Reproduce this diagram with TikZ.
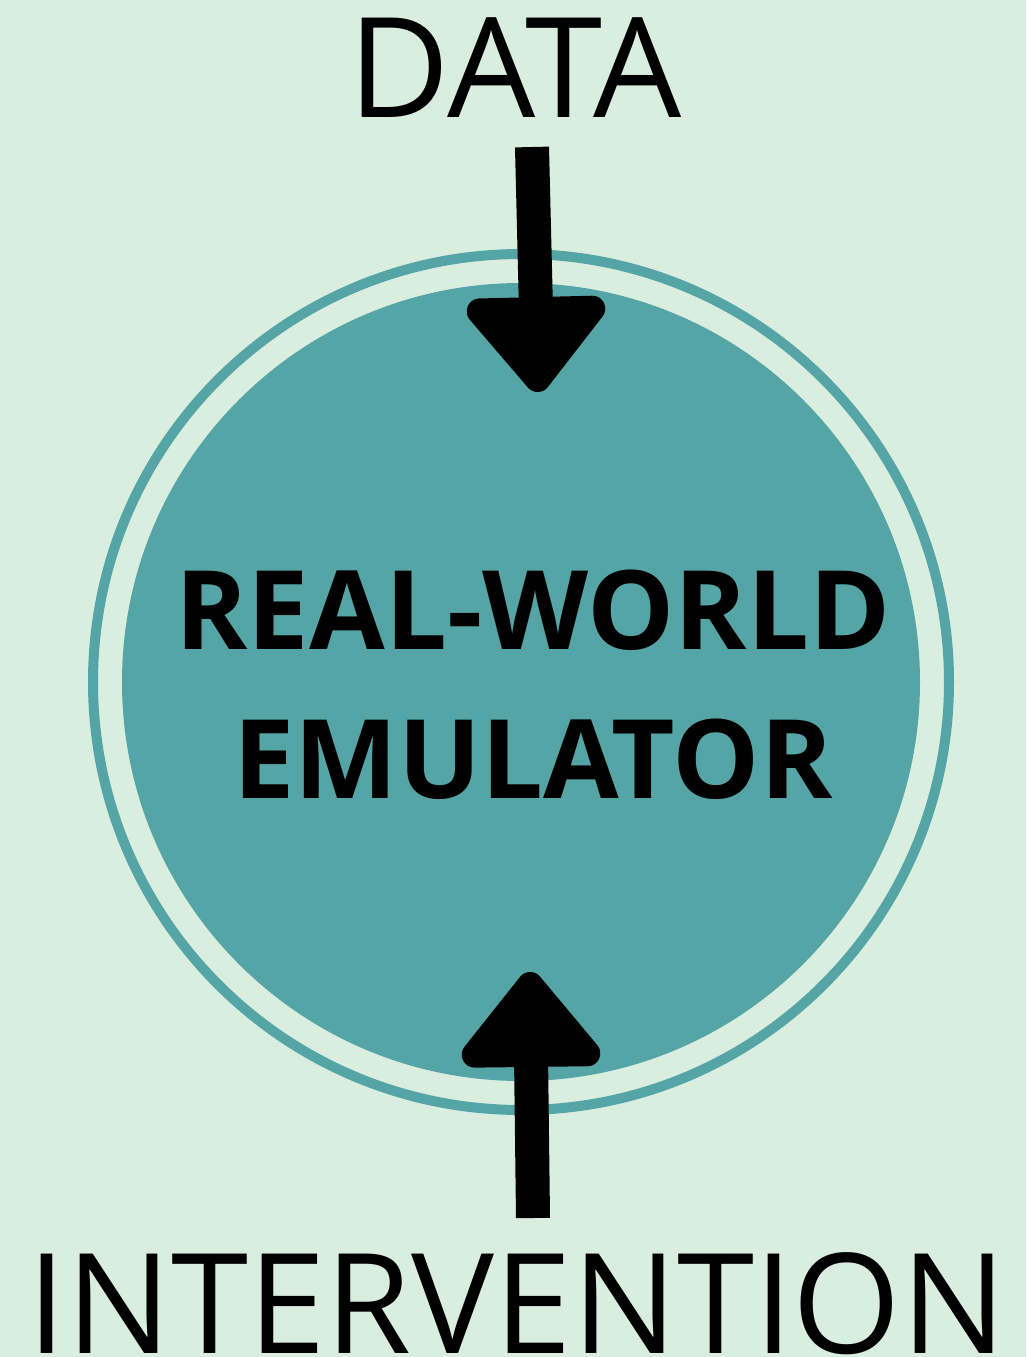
\documentclass[tikz,border=0pt]{standalone}
\usepackage{fontspec}
\setmainfont{Open Sans}
\usepackage{xcolor}
\usetikzlibrary{arrows.meta}
\usetikzlibrary{math}

\definecolor{mint}{HTML}{DAEEE0}
\definecolor{emuteal}{HTML}{55A5A7}

\begin{document}
\begin{tikzpicture}[x=0.01cm,y=-0.01cm]
\tikzmath{
\R=399;
\ring=428;
}
\tikzset{
 bigarrow/.style={-{Triangle[width=1.6cm,length=1.03cm,round]}, line width=0.34cm, color=black},
 biglabel/.style={font=\fontsize{39.6pt}{44pt}\selectfont, inner sep=0pt, anchor=base}
}
 %background:
 \fill[mint] (0,0) rectangle (1026,1357);
 \useasboundingbox (0,0) rectangle (1026,1357);

 %emulator:
 \fill[emuteal] (521,682) circle (\R);
 \draw[emuteal, line width=0.1cm] (521,682) circle (\ring);
 \node[font=\bfseries\fontsize{31.2pt}{42.4pt}\selectfont, align=center, inner sep=0pt] (emu) at (533,685) {REAL-WORLD\\EMULATOR};

 %labels:
 \node[biglabel] (data) at (515,117) {DATA};
 \node[biglabel] (interv) at (517,1353) {INTERVENTION};

 \coordinate (datastart) at (532,147);
 \coordinate (datatip) at (538,392);
 \coordinate (intervstart) at (533,1218);
 \coordinate (intervtip) at (530,972);

 %arrows:
 \draw[bigarrow] (datastart) -- (datatip);
 \draw[bigarrow] (intervstart) -- (intervtip);
\end{tikzpicture}
\end{document}
